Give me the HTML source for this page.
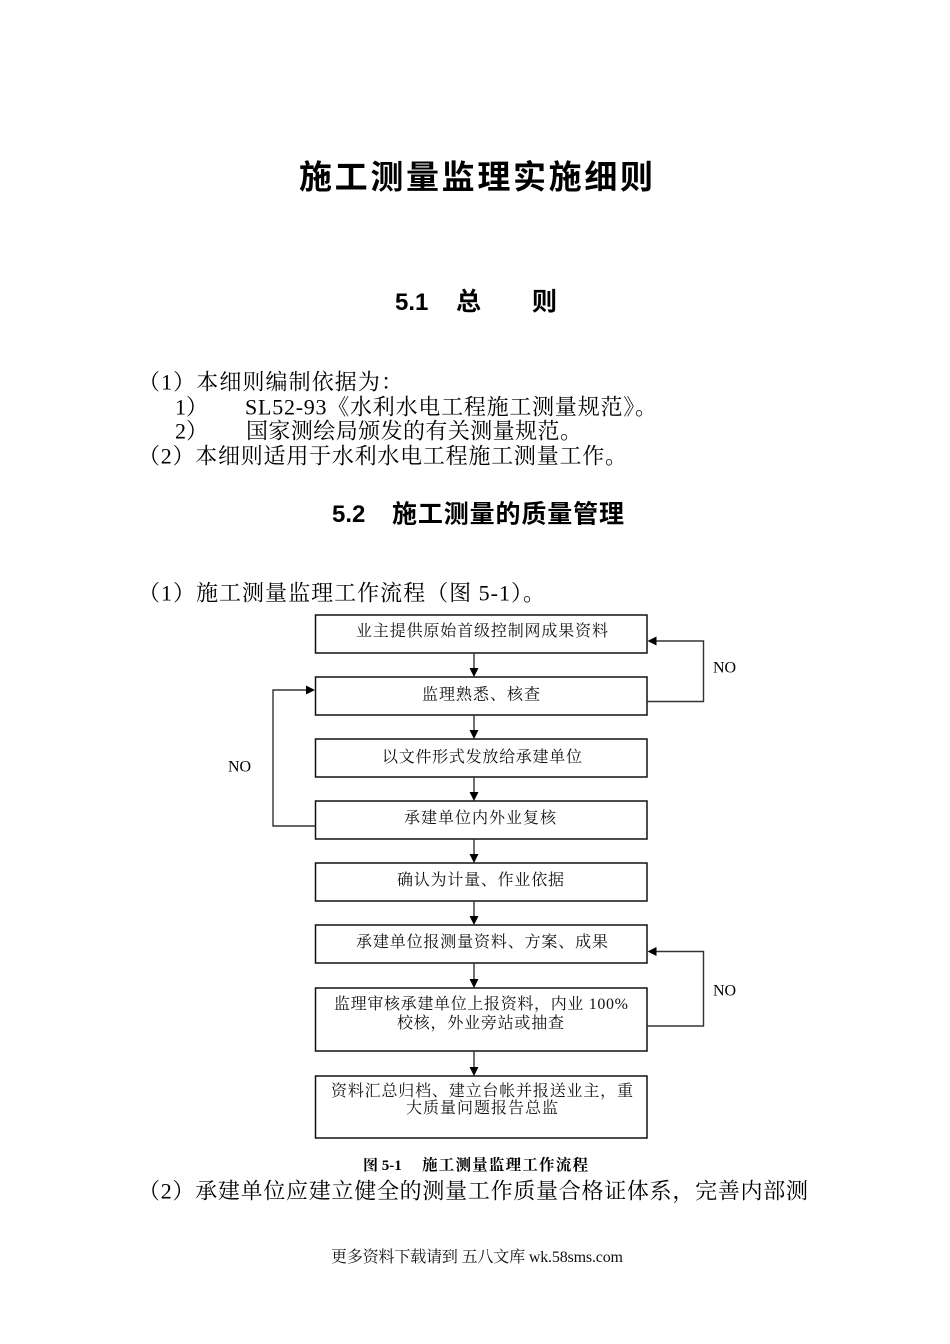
<!DOCTYPE html>
<html>
<head>
<meta charset="utf-8">
<style>
html,body{margin:0;padding:0;background:#fff;}
body{width:950px;height:1344px;overflow:hidden;}
svg{display:block;}
.t{font-family:"Liberation Sans","Noto Sans CJK SC",sans-serif;font-weight:bold;fill:#000;}
.b{font-family:"Liberation Serif","Noto Serif CJK SC",serif;fill:#000;}
.f{font-family:"Liberation Serif","Noto Serif CJK SC",serif;fill:#111;font-size:16px;}
.box{fill:#fff;stroke:#111;stroke-width:1.5;}
.ln{fill:none;stroke:#333;stroke-width:1.4;}
.ah{fill:#000;}
</style>
</head>
<body>
<svg width="950" height="1344" viewBox="0 0 950 1344" xmlns="http://www.w3.org/2000/svg">
<rect x="0" y="0" width="950" height="1344" fill="#fff"/>

<!-- Title -->
<text class="t" x="299" y="188.5" font-size="33" textLength="354" lengthAdjust="spacing">施工测量监理实施细则</text>

<!-- 5.1 heading -->
<text class="t" x="395" y="310" font-size="24">5.1</text>
<text class="t" x="456" y="310" font-size="25">总</text>
<text class="t" x="532" y="310" font-size="25">则</text>

<!-- body -->
<text class="b" x="138" y="389.4" font-size="22" textLength="265" lengthAdjust="spacing">（1）本细则编制依据为：</text>
<text class="b" x="175" y="414.4" font-size="22">1）</text>
<text class="b" x="245" y="414.4" font-size="22" textLength="412" lengthAdjust="spacing">SL52-93《水利水电工程施工测量规范》。</text>
<text class="b" x="175" y="438.4" font-size="22">2）</text>
<text class="b" x="246" y="438.4" font-size="22" textLength="336" lengthAdjust="spacing">国家测绘局颁发的有关测量规范。</text>
<text class="b" x="138" y="463.4" font-size="22" textLength="489" lengthAdjust="spacing">（2）本细则适用于水利水电工程施工测量工作。</text>

<!-- 5.2 heading -->
<text class="t" x="332" y="522" font-size="24">5.2</text>
<text class="t" x="392" y="522.5" font-size="25" textLength="232" lengthAdjust="spacing">施工测量的质量管理</text>

<text class="b" x="138" y="600.4" font-size="22" textLength="407" lengthAdjust="spacing">（1）施工测量监理工作流程（图 5-1）。</text>

<!-- Flowchart boxes -->
<rect class="box" x="315.5" y="615" width="331.5" height="38"/>
<rect class="box" x="315.5" y="677" width="331.5" height="38"/>
<rect class="box" x="315.5" y="739" width="331.5" height="38"/>
<rect class="box" x="315.5" y="801" width="331.5" height="38"/>
<rect class="box" x="315.5" y="863" width="331.5" height="38"/>
<rect class="box" x="315.5" y="925" width="331.5" height="38"/>
<rect class="box" x="315.5" y="988" width="331.5" height="63"/>
<rect class="box" x="315.5" y="1076" width="331.5" height="62"/>

<!-- box texts -->
<text class="f" x="356" y="636" textLength="252" lengthAdjust="spacing">业主提供原始首级控制网成果资料</text>
<text class="f" x="422" y="699.5" textLength="118" lengthAdjust="spacing">监理熟悉、核查</text>
<text class="f" x="382" y="762" textLength="200" lengthAdjust="spacing">以文件形式发放给承建单位</text>
<text class="f" x="404" y="823" textLength="152" lengthAdjust="spacing">承建单位内外业复核</text>
<text class="f" x="397" y="885" textLength="167" lengthAdjust="spacing">确认为计量、作业依据</text>
<text class="f" x="356" y="947" textLength="252" lengthAdjust="spacing">承建单位报测量资料、方案、成果</text>
<text class="f" x="334" y="1009" textLength="294" lengthAdjust="spacing">监理审核承建单位上报资料，内业 100%</text>
<text class="f" x="397" y="1028" textLength="167" lengthAdjust="spacing">校核，外业旁站或抽查</text>
<text class="f" x="331" y="1096" textLength="302" lengthAdjust="spacing">资料汇总归档、建立台帐并报送业主，重</text>
<text class="f" x="406" y="1113" textLength="152" lengthAdjust="spacing">大质量问题报告总监</text>

<!-- vertical arrows -->
<g>
<line class="ln" x1="474" y1="653" x2="474" y2="669"/>
<polygon class="ah" points="469.5,668 478.5,668 474,677"/>
<line class="ln" x1="474" y1="715" x2="474" y2="731"/>
<polygon class="ah" points="469.5,730 478.5,730 474,739"/>
<line class="ln" x1="474" y1="777" x2="474" y2="793"/>
<polygon class="ah" points="469.5,792 478.5,792 474,801"/>
<line class="ln" x1="474" y1="839" x2="474" y2="855"/>
<polygon class="ah" points="469.5,854 478.5,854 474,863"/>
<line class="ln" x1="474" y1="901" x2="474" y2="917"/>
<polygon class="ah" points="469.5,916 478.5,916 474,925"/>
<line class="ln" x1="474" y1="963" x2="474" y2="980"/>
<polygon class="ah" points="469.5,979 478.5,979 474,988"/>
<line class="ln" x1="474" y1="1051" x2="474" y2="1068"/>
<polygon class="ah" points="469.5,1067 478.5,1067 474,1076"/>
</g>

<!-- right loop 1 -->
<polyline class="ln" points="647,701.5 703.5,701.5 703.5,641 655,641"/>
<polygon class="ah" points="647.5,641 656.5,636.5 656.5,645.5"/>
<text class="b" x="713" y="672.5" font-size="16">NO</text>

<!-- left loop -->
<polyline class="ln" points="315,826 273,826 273,690 307,690"/>
<polygon class="ah" points="315,690 306,685.5 306,694.5"/>
<text class="b" x="228" y="771.5" font-size="16">NO</text>

<!-- right loop 2 -->
<polyline class="ln" points="647,1026 703.5,1026 703.5,951.5 655,951.5"/>
<polygon class="ah" points="647.5,951.5 656.5,947 656.5,956"/>
<text class="b" x="713" y="995.5" font-size="16">NO</text>

<!-- caption -->
<text class="b" x="363" y="1170" font-size="15" font-weight="bold">图 5-1</text>
<text class="b" x="422" y="1170" font-size="15.5" font-weight="bold" textLength="166" lengthAdjust="spacing">施工测量监理工作流程</text>

<!-- last paragraph -->
<text class="b" x="138" y="1198.4" font-size="22" textLength="670" lengthAdjust="spacing">（2）承建单位应建立健全的测量工作质量合格证体系，完善内部测</text>

<!-- footer -->
<text class="f" x="331" y="1262" textLength="292" lengthAdjust="spacing">更多资料下载请到 五八文库 wk.58sms.com</text>
</svg>
</body>
</html>
